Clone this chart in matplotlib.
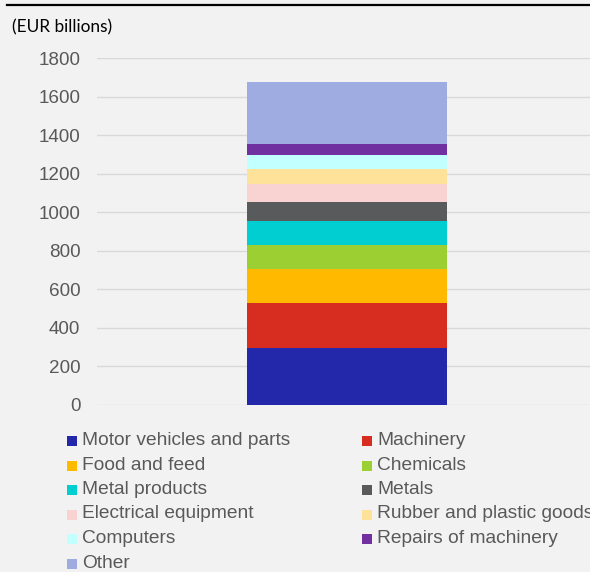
import matplotlib
matplotlib.use("Agg")
import matplotlib.pyplot as plt
from matplotlib.patches import Rectangle
from matplotlib.lines import Line2D

# Industry shares of output (EUR billions), stacked bottom to top
categories = [
    "Motor vehicles and parts", "Machinery", "Food and feed", "Chemicals",
    "Metal products", "Metals", "Electrical equipment",
    "Rubber and plastic goods", "Computers", "Repairs of machinery", "Other",
]
values = [296, 231, 178, 125, 123, 102, 93, 76, 73, 57, 321]
colors = [
    "#2327A9", "#D62D20", "#FFBA00", "#9BCF32", "#00CED1", "#595A5C",
    "#F8D3D2", "#FFE29A", "#C2FFFF", "#7030A0", "#9EACE2",
]
yticks = [0, 200, 400, 600, 800, 1000, 1200, 1400, 1600, 1800]

W, H = 590, 572
bg = "#F2F2F2"
fig = plt.figure(figsize=(W / 100, H / 100), dpi=100, facecolor=bg)

ax = fig.add_axes([97 / W, (H - 404.7) / H, 500 / W, 346.5 / H], facecolor=bg)
bottom = 0
for v, c in zip(values, colors):
    ax.bar(0, v, width=0.4, bottom=bottom, color=c, linewidth=0, zorder=3)
    bottom += v

ax.set_xlim(-0.5, 0.5)
ax.set_ylim(0, 1800)
ax.set_yticks(yticks)
ax.set_yticklabels([str(t) for t in yticks])
ax.set_xticks([])
ax.tick_params(axis="y", length=0, pad=12, labelsize=13.6, labelcolor="#595959")
for lab in ax.get_yticklabels():
    lab.set_fontfamily("Liberation Sans")
ax.grid(axis="y", color="#D9D9D9", linewidth=1.0, zorder=0)
for s in ax.spines.values():
    s.set_visible(False)

# Heading rule and unit label
fig.add_artist(Line2D([7 / W, 1.0], [1 - 5 / H, 1 - 5 / H], color="black", linewidth=1.6))
fig.text(12 / W, 1 - 27 / H, "(EUR billions)", fontsize=12.4, family="Lato",
         color="black", va="center", ha="left")

# Two-column legend, filled row by row
col_x = [66.7, 362]
row_y0, row_dy = 441, 24.5
for i, (name, c) in enumerate(zip(categories, colors)):
    r, k = divmod(i, 2)
    x = col_x[k]
    y = row_y0 + r * row_dy
    fig.add_artist(Rectangle((x / W, (H - y - 5) / H), 10 / W, 10 / H,
                             transform=fig.transFigure, facecolor=c, edgecolor="none"))
    fig.text((x + 15) / W, (H - y + 0.5) / H, name, fontsize=13.8, family="Liberation Sans",
             color="#595959", va="center", ha="left")

fig.savefig("out.png", dpi=100, facecolor=bg)
